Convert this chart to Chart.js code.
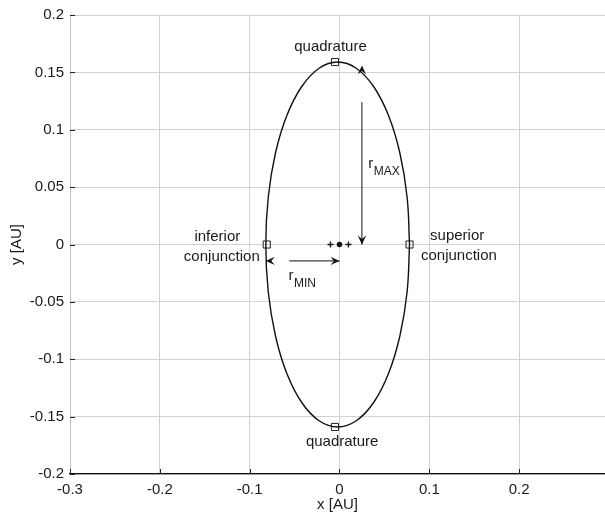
<!DOCTYPE html>
<html>
<head>
<meta charset="utf-8">
<script src="https://cdn.jsdelivr.net/npm/chart.js@4"></script>
<style>body{margin:0;background:#fff}</style>
</head>
<body>
<canvas id="myChart" width="605" height="519"></canvas>
<script>
// orbit, going round from superior conjunction
const orbitX = [0.078, 0.0753, 0.0673, 0.0546, 0.038, 0.0187, -0.002, -0.0227, -0.042, -0.0586, -0.0713, -0.0793,
                -0.082, -0.0793, -0.0713, -0.0586, -0.042, -0.0227, -0.002, 0.0187, 0.038, 0.0546, 0.0673, 0.0753, 0.078];
const orbitY = [0, 0.0412, 0.0795, 0.1124, 0.1377, 0.1536, 0.159, 0.1536, 0.1377, 0.1124, 0.0795, 0.0412,
                0, -0.0412, -0.0795, -0.1124, -0.1377, -0.1536, -0.159, -0.1536, -0.1377, -0.1124, -0.0795, -0.0412, 0];
const markX = [0.078, -0.005, -0.081, -0.005];
const markY = [0, 0.159, 0, -0.159];
const crossX = [-0.01, 0.01];
const crossY = [0, 0];
const sunX = [0];
const sunY = [0];
const xTicks = [-0.3, -0.2, -0.1, 0, 0.1, 0.2];
const yTicks = [-0.2, -0.15, -0.1, -0.05, 0, 0.05, 0.1, 0.15, 0.2];

const labels = [
    {text: "quadrature", x: -0.010, y: 0.1724},
    {text: "quadrature", x: 0.003, y: -0.1724},
    {text: "inferior", x: -0.136, y: 0.0065},
    {text: "conjunction", x: -0.131, y: -0.0105},
    {text: "superior", x: 0.131, y: 0.0073},
    {text: "conjunction", x: 0.133, y: -0.0095},
];
// r labels: anchor = left/baseline of "r"
const rLabels = [
    {sub: "MAX", x: 0.032, y: 0.067},
    {sub: "MIN", x: -0.0567, y: -0.0307},
];
// arrow shafts and heads (data coords)
const shafts = [
    {x1: 0.025, y1: 0.124, x2: 0.025, y2: 0.0},
    {x1: -0.056, y1: -0.0143, x2: 0.0, y2: -0.0143},
];
const heads = [
    {x: 0.025, y: 0.0, dir: "down"},
    {x: 0.025, y: 0.156, dir: "up"},
    {x: 0.0, y: -0.0143, dir: "right"},
    {x: -0.082, y: -0.0143, dir: "left"},
];

const pts = (xs, ys) => xs.map((v, i) => ({x: v, y: ys[i]}));
const fontFam = "'Liberation Sans', Arial, sans-serif";

function drawHead(ctx, x, y, dir) {
    const ang = {down: Math.PI / 2, up: -Math.PI / 2, right: 0, left: Math.PI}[dir];
    ctx.save();
    ctx.translate(x, y);
    ctx.rotate(ang);
    ctx.beginPath();
    ctx.moveTo(0, 0);
    ctx.lineTo(-9, -4.2);
    ctx.lineTo(-5.5, 0);
    ctx.lineTo(-9, 4.2);
    ctx.closePath();
    ctx.fillStyle = "#111";
    ctx.fill();
    ctx.restore();
}

const annot = {
    id: "annot",
    afterDatasetsDraw(chart) {
        const ctx = chart.ctx;
        const xs = chart.scales.x, ys = chart.scales.y;
        const area = chart.chartArea;
        ctx.save();
        // inward tick marks
        ctx.strokeStyle = "#222";
        ctx.lineWidth = 1;
        ctx.beginPath();
        xTicks.forEach(v => {
            const px = Math.round(xs.getPixelForValue(v)) + 0.5;
            ctx.moveTo(px, area.bottom);
            ctx.lineTo(px, area.bottom - 5);
        });
        yTicks.forEach(v => {
            const py = Math.round(ys.getPixelForValue(v)) + 0.5;
            ctx.moveTo(area.left, py);
            ctx.lineTo(area.left + 5, py);
        });
        ctx.stroke();
        // arrows
        ctx.strokeStyle = "#111";
        shafts.forEach(s => {
            ctx.beginPath();
            ctx.moveTo(xs.getPixelForValue(s.x1), ys.getPixelForValue(s.y1));
            ctx.lineTo(xs.getPixelForValue(s.x2), ys.getPixelForValue(s.y2));
            ctx.stroke();
        });
        heads.forEach(h => drawHead(ctx, xs.getPixelForValue(h.x), ys.getPixelForValue(h.y), h.dir));
        // text
        ctx.fillStyle = "#1a1a1a";
        ctx.font = "15px " + fontFam;
        ctx.textAlign = "center";
        ctx.textBaseline = "middle";
        labels.forEach(l => ctx.fillText(l.text, xs.getPixelForValue(l.x), ys.getPixelForValue(l.y)));
        ctx.textAlign = "left";
        ctx.textBaseline = "alphabetic";
        rLabels.forEach(l => {
            const px = xs.getPixelForValue(l.x), py = ys.getPixelForValue(l.y);
            ctx.font = "15px " + fontFam;
            ctx.fillText("r", px, py);
            const w = ctx.measureText("r").width;
            ctx.font = "12px " + fontFam;
            ctx.fillText(l.sub, px + w + 0.5, py + 7);
        });
        ctx.restore();
    }
};

const conf = {
    type: "scatter",
    data: {
        datasets: [
            {
                data: pts(orbitX, orbitY),
                showLine: true,
                tension: 0.4,
                borderColor: "#111",
                borderWidth: 1.4,
                pointRadius: 0
            },
            {
                data: pts(markX, markY),
                pointStyle: "rect",
                pointRadius: 5,
                borderColor: "#222",
                borderWidth: 1,
                backgroundColor: "rgba(0,0,0,0)"
            },
            {
                data: pts(crossX, crossY),
                pointStyle: "cross",
                pointRadius: 3,
                borderColor: "#111",
                borderWidth: 1.3
            },
            {
                data: pts(sunX, sunY),
                pointStyle: "circle",
                pointRadius: 2.8,
                borderWidth: 0,
                backgroundColor: "#111"
            }
        ]
    },
    options: {
        responsive: false,
        animation: false,
        layout: {autoPadding: false, padding: {top: 12, right: 0, left: 0, bottom: 0}},
        plugins: {legend: {display: false}, tooltip: {enabled: false}},
        scales: {
            x: {
                type: "linear",
                min: -0.3,
                max: 0.2956,
                afterBuildTicks: s => { s.ticks = xTicks.map(v => ({value: v})); },
                afterFit: s => { s.height = 45; },
                grid: {color: "#d2d2d2", drawTicks: false},
                border: {color: "#111", width: 1.2},
                ticks: {
                    padding: 7,
                    color: "#1a1a1a",
                    font: {family: fontFam, size: 15},
                    callback: v => String(Number(v.toFixed(2)))
                },
                title: {
                    display: true,
                    text: "x [AU]",
                    color: "#1a1a1a",
                    font: {family: fontFam, size: 15},
                    padding: {top: 0, bottom: 5}
                }
            },
            y: {
                type: "linear",
                min: -0.2,
                max: 0.2,
                afterBuildTicks: s => { s.ticks = yTicks.map(v => ({value: v})); },
                afterFit: s => { s.width = 70; },
                grid: {color: "#d2d2d2", drawTicks: false},
                border: {color: "#c4c4c4"},
                ticks: {
                    padding: 6,
                    color: "#1a1a1a",
                    font: {family: fontFam, size: 15},
                    callback: v => String(Number(v.toFixed(2)))
                },
                title: {
                    display: true,
                    text: "y [AU]",
                    color: "#1a1a1a",
                    font: {family: fontFam, size: 15},
                    padding: {top: 8, bottom: 0}
                }
            }
        }
    },
    plugins: [annot]
};

const ctx = document.getElementById("myChart");
const myChart = new Chart(ctx, conf);
</script>
</body>
</html>
